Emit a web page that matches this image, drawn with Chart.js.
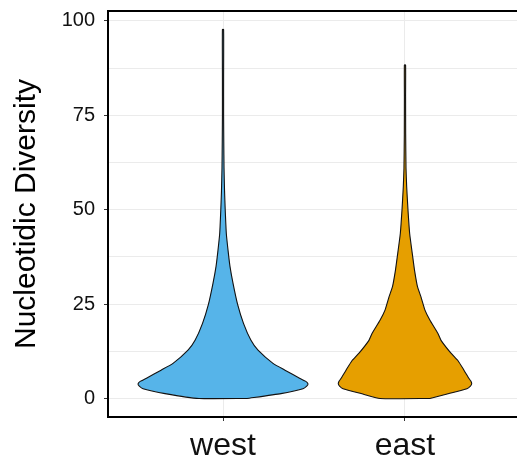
<!DOCTYPE html>
<html>
<head>
<meta charset="utf-8">
<script src="https://cdn.jsdelivr.net/npm/chart.js@4.4.1/dist/chart.umd.min.js"></script>
<style>
html,body{margin:0;padding:0;overflow:hidden;background:#fff}
#wrap{width:520px;height:463px;position:relative}
</style>
</head>
<body>
<div id="wrap"><canvas id="c"></canvas></div>
<script>
// ---- data ----
const categories = ['west', 'east'];
const yTicks = [0, 12.5, 25, 37.5, 50, 62.5, 75, 87.5, 100];
const yTickLabels = ['0', '', '25', '', '50', '', '75', '', '100'];
const yTitle = 'Nucleotidic Diversity';

// density profile (relative, 1 = widest violin) at each diversity level
const westLevels  = [0, 1.3, 2.6, 3.3, 3.9, 4.6, 5.3, 7.5, 9.3, 12.8, 15.4, 19.9, 25, 30.5, 35, 39.3, 43.7, 50, 55, 61, 68, 75, 85, 97.7];
const westDensity = [0.282, 0.682, 0.941, 0.985, 1.0, 0.97, 0.906, 0.729, 0.588, 0.412, 0.329, 0.241, 0.171, 0.118, 0.082, 0.059, 0.039, 0.026, 0.018, 0.012, 0.009, 0.007, 0.007, 0.007];

const eastLevels  = [0, 1.3, 2.6, 3.3, 3.9, 4.6, 5.3, 7.5, 10, 12, 15.4, 17.2, 20.7, 23.4, 26.9, 29.6, 34, 37.5, 43.7, 50, 56, 61, 70, 80, 88.3];
const eastDensity = [0.294, 0.518, 0.729, 0.77, 0.785, 0.775, 0.753, 0.694, 0.624, 0.541, 0.424, 0.388, 0.294, 0.235, 0.188, 0.147, 0.112, 0.091, 0.055, 0.035, 0.02, 0.012, 0.008, 0.007, 0.007];

const colors = ['#56B4E9', '#E69F00'];
const maxHalfWidth = 0.467; // in category units

function violinOutline(center, levels, dens) {
  const pts = [];
  for (let i = 0; i < levels.length; i++) pts.push({x: center + dens[i] * maxHalfWidth, y: levels[i]});
  for (let i = levels.length - 1; i >= 0; i--) pts.push({x: center - dens[i] * maxHalfWidth, y: levels[i]});
  pts.push({x: center + dens[0] * maxHalfWidth, y: levels[0]});
  return pts;
}

const profiles = [[westLevels, westDensity], [eastLevels, eastDensity]];
const datasets = categories.map((name, i) => ({
  label: name,
  data: violinOutline(i + 1, profiles[i][0], profiles[i][1]),
  showLine: true,
  fill: 'shape',
  backgroundColor: colors[i],
  borderColor: '#111',
  borderWidth: 1.1,
  pointRadius: 0,
  tension: 0.15
}));

const panelBorder = {
  id: 'panelBorder',
  afterDraw(chart) {
    const {ctx, chartArea: a} = chart;
    ctx.save();
    ctx.strokeStyle = '#000';
    ctx.lineWidth = 2;
    ctx.strokeRect(a.left, a.top, a.right - a.left, a.bottom - a.top);
    ctx.restore();
  }
};

const FONT = '"Liberation Sans", Arial, Helvetica, sans-serif';

new Chart(document.getElementById('c'), {
  type: 'scatter',
  data: {datasets},
  plugins: [panelBorder],
  options: {
    responsive: true,
    maintainAspectRatio: false,
    animation: false,
    devicePixelRatio: 1,
    layout: {padding: {top: 11, left: 0, right: 0, bottom: 0}},
    plugins: {legend: {display: false}, tooltip: {enabled: false}},
    scales: {
      x: {
        type: 'linear',
        min: 0.368,
        max: 2.632,
        afterBuildTicks: s => { s.ticks = categories.map((c, i) => ({value: i + 1})); },
        afterFit: s => { s.height = 46; s.paddingLeft = 0; s.paddingRight = 0; },
        border: {display: false},
        grid: {color: '#ebebeb', lineWidth: 1, tickLength: 4, tickColor: '#333'},
        ticks: {
          font: {family: FONT, size: 32},
          color: '#111',
          padding: 6,
          maxRotation: 0,
          callback: v => categories[Math.round(v) - 1]
        }
      },
      y: {
        type: 'linear',
        min: -4.9,
        max: 102.6,
        afterBuildTicks: s => { s.ticks = yTicks.map(v => ({value: v})); },
        afterFit: s => { s.width = 108; s.paddingTop = 0; s.paddingBottom = 0; },
        border: {display: false},
        grid: {
          color: '#ebebeb', lineWidth: 1, tickLength: 4,
          tickColor: c => (c.tick && yTickLabels[yTicks.indexOf(c.tick.value)] !== '') ? '#333' : 'rgba(0,0,0,0)'
        },
        ticks: {
          font: {family: FONT, size: 20},
          color: '#111',
          padding: 9,
          callback: v => yTickLabels[yTicks.indexOf(v)]
        },
        title: {
          display: true,
          text: yTitle,
          font: {family: FONT, size: 30},
          color: '#000',
          padding: {top: 9, bottom: 0}
        }
      }
    }
  }
});
</script>
</body>
</html>
